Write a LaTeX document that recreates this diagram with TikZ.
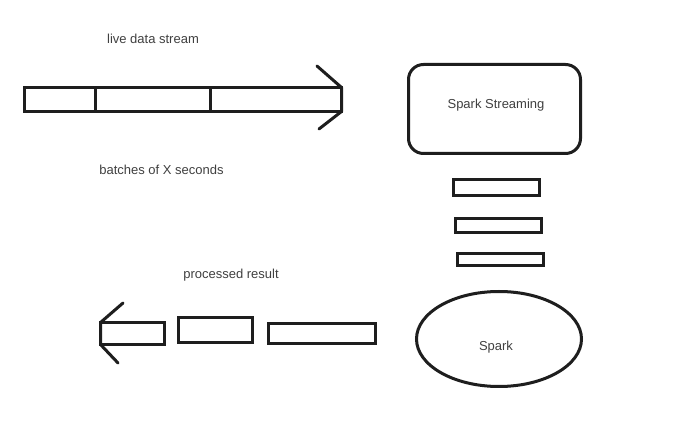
\documentclass[tikz,border=0pt]{standalone}
\usepackage{fontspec}
\setmainfont{Liberation Sans}
\usetikzlibrary{shapes.geometric}
\definecolor{ink}{HTML}{1E1E1E}
\definecolor{txt}{HTML}{404040}
\begin{document}
\begin{tikzpicture}[x=1pt,y=-1pt,
  shape line/.style={draw=ink,line width=3pt},
  box/.style={shape line,rectangle,inner sep=0pt,outer sep=0pt},
  lbl/.style={text=txt,font=\fontsize{13}{15}\selectfont,inner sep=0pt},
  head/.style={draw=ink,line width=3pt,line cap=round,line join=round}]
\useasboundingbox[fill=white] (0,0) rectangle (675,435);
% top stream
\node[box,minimum width=70.5pt,minimum height=24pt] (s1) at (59.75,99.5) {};
\node[box,minimum width=115pt,minimum height=24pt] (s2) at (152.5,99.5) {};
\node[box,minimum width=131.5pt,minimum height=24pt] (s3) at (275.75,99.5) {};
\coordinate (t1) at (317,66);
\coordinate (t2) at (319,129);
\draw[head] (t1) -- (s3.north east) -- (s3.south east) -- (t2);
\node[lbl] (l1) at (153,38.5) {live data stream};
\node[lbl] (l2) at (161.5,169.5) {batches of X seconds};
% right column
\node[box,rounded corners=15pt,minimum width=172pt,minimum height=89pt] (ss) at (494.5,109) {};
\node[lbl] (sst) at (496,105.5) {Spark Streaming};
\node[box,minimum width=86pt,minimum height=16pt] (ba) at (496.5,187.5) {};
\node[box,minimum width=86pt,minimum height=14pt] (bb) at (498.5,225.5) {};
\node[box,minimum width=86pt,minimum height=12pt] (bc) at (500.5,259.5) {};
\node[shape line,ellipse,inner sep=0pt,minimum width=165pt,minimum height=95pt] (sp) at (499,339) {};
\node[lbl] (spt) at (496,347.5) {Spark};
% bottom result
\node[box,minimum width=64pt,minimum height=22pt] (r1) at (132.5,333.5) {};
\node[box,minimum width=74pt,minimum height=25pt] (r2) at (215.5,330) {};
\node[box,minimum width=107pt,minimum height=20pt] (r3) at (322,333.5) {};
\coordinate (u1) at (123,303);
\coordinate (u2) at (118,363);
\draw[head] (u1) -- (r1.north west) -- (r1.south west) -- (u2);
\node[lbl] (l3) at (231,275.5) {processed result};
\end{tikzpicture}
\end{document}
